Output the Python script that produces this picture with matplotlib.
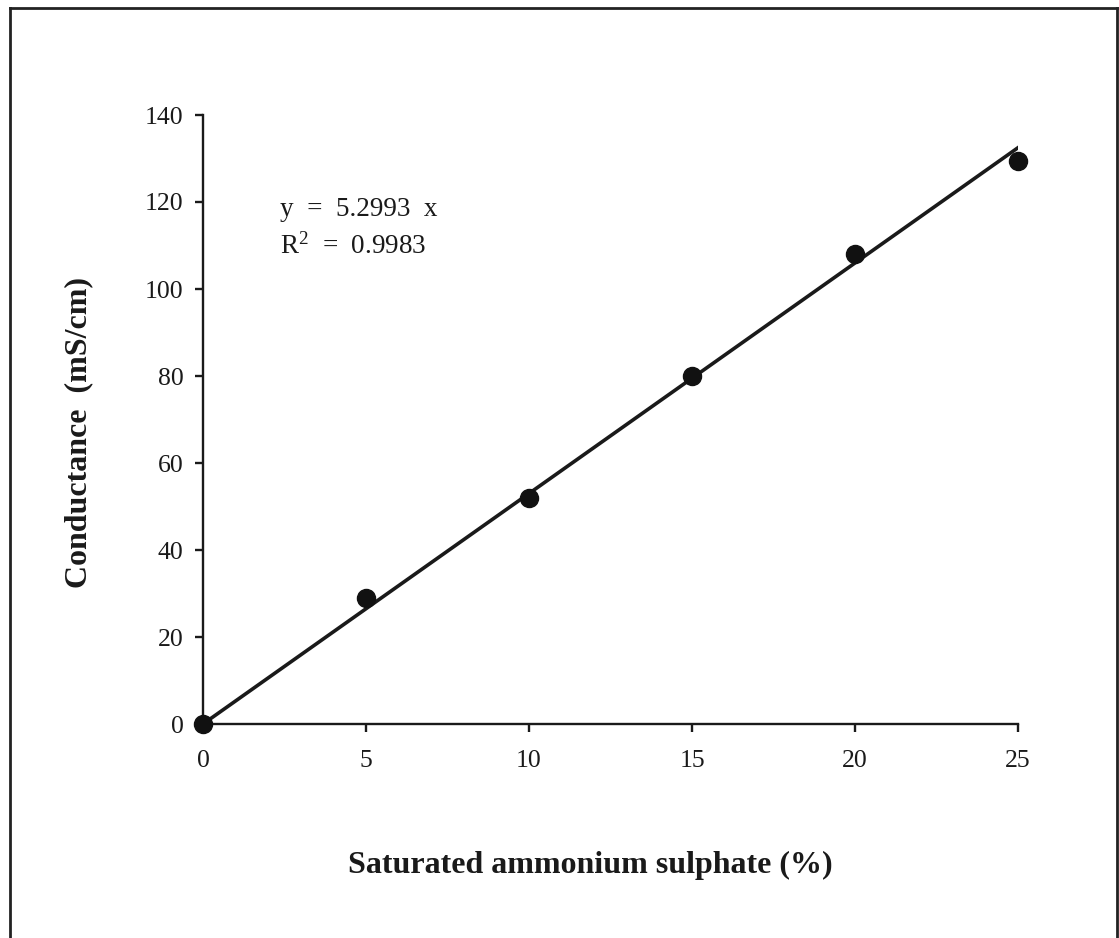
import numpy as np
import matplotlib
matplotlib.use('agg')
import matplotlib.pyplot as plt
from matplotlib.lines import Line2D

# measured data
conc = [0, 5, 10, 15, 20, 25]
conductance = [0, 29, 52, 80, 108, 129.5]
slope = 5.2993
r2 = 0.9983
xticks = [0, 5, 10, 15, 20, 25]
yticks = [0, 20, 40, 60, 80, 100, 120, 140]

plt.rcParams['font.family'] = ['Liberation Serif', 'DejaVu Serif']
plt.rcParams['mathtext.fontset'] = 'custom'
plt.rcParams['mathtext.rm'] = 'Liberation Serif'
plt.rcParams['mathtext.it'] = 'Liberation Serif:italic'
plt.rcParams['mathtext.bf'] = 'Liberation Serif:bold'

W, H = 1119, 938
fig = plt.figure(figsize=(W / 100, H / 100), dpi=100)
ax = fig.add_axes([203 / W, 1 - 724 / H, 815 / W, 609 / H])

# fitted line through origin
xfit = np.array([conc[0], conc[-1]])
ax.plot(xfit, slope * xfit, color='#1a1a1a', lw=2.6, zorder=2)
ax.plot(conc, conductance, 'o', color='#111111', ms=13, zorder=3, clip_on=False)

ax.set_xlim(0, 25)
ax.set_ylim(0, 140)
ax.set_xticks(xticks)
ax.set_yticks(yticks)
ax.spines['top'].set_visible(False)
ax.spines['right'].set_visible(False)
for s in ['left', 'bottom']:
    ax.spines[s].set_linewidth(1.7)
    ax.spines[s].set_color('#1a1a1a')
ax.tick_params(direction='out', length=6, width=1.7, labelsize=18.5, colors='#1a1a1a')
ax.tick_params(axis='y', pad=8)
ax.tick_params(axis='x', pad=13)

ax.text(2.36, 118.2, 'y  =  5.2993  x', fontsize=19.5, va='center', color='#1a1a1a')
ax.text(2.36, 109.7, 'R$^2$  =  %.4f' % r2, fontsize=19.5, va='center', color='#1a1a1a')

# axis titles
fig.text(590 / W, 1 - 873 / H, 'Saturated ammonium sulphate (%)', fontsize=23,
         fontweight='bold', ha='center', va='baseline', color='#1a1a1a')
fig.text(79 / W, 1 - 432 / H, 'Conductance  (mS/cm)', fontsize=23, fontweight='bold',
         rotation=90, ha='center', va='center', color='#1a1a1a')

# outer frame (open at the bottom)
kw = dict(color='#222222', lw=2.0, transform=fig.transFigure)
fig.add_artist(Line2D([10 / W, 10 / W], [0, 1 - 8 / H], **kw))
fig.add_artist(Line2D([10 / W, 1117 / W], [1 - 8 / H, 1 - 8 / H], **kw))
fig.add_artist(Line2D([1117 / W, 1117 / W], [0, 1 - 8 / H], **kw))

fig.savefig('out.png', dpi=100, facecolor='white')
